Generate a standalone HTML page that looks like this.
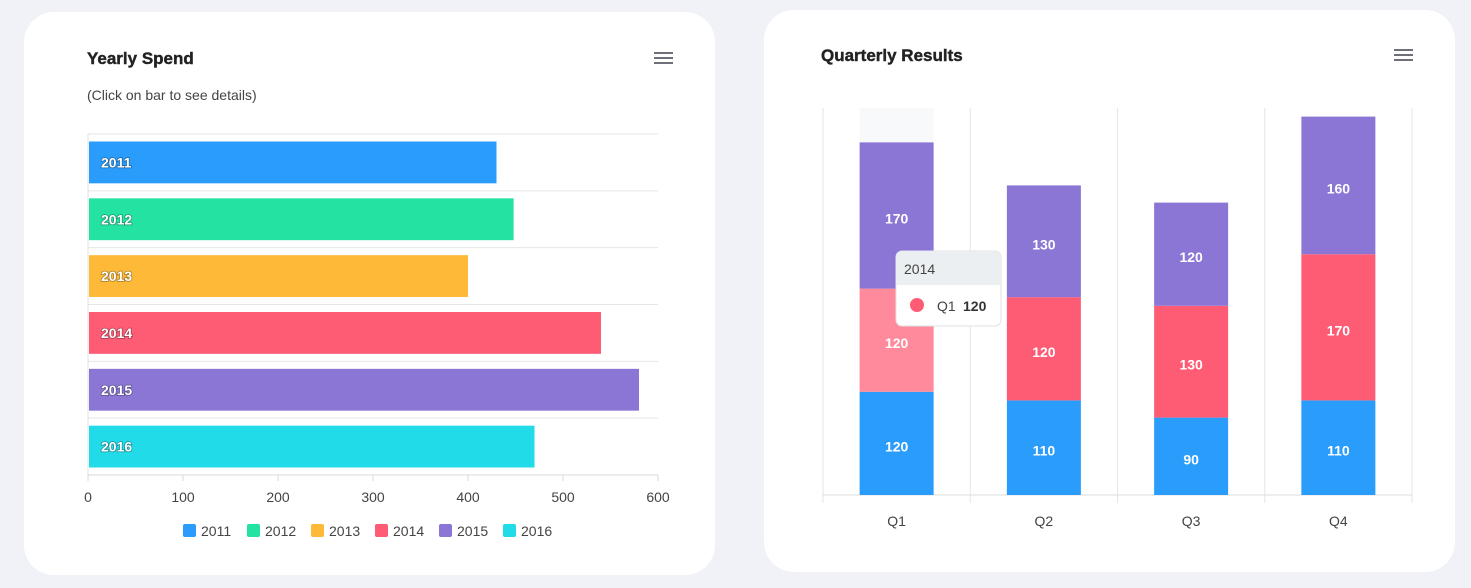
<!DOCTYPE html>
<html><head><meta charset="utf-8"><style>
body{margin:0;width:1471px;height:588px;background:#f1f2f7;font-family:"Liberation Sans",sans-serif;position:relative;overflow:hidden}
.card{position:absolute;background:#fff;border-radius:30px}
svg{position:absolute;left:0;top:0}
</style></head><body>
<div class="card" style="left:24px;top:12px;width:691px;height:563px"></div>
<div class="card" style="left:764px;top:10px;width:691px;height:562px"></div>
<svg id="s" width="1471" height="588" font-family="Liberation Sans, sans-serif">
<text x="87" y="64" font-size="17" font-weight="bold" fill="#222" stroke="#222" stroke-width="0.4">Yearly Spend</text>
<text x="87" y="100" font-size="14" fill="#444">(Click on bar to see details)</text>
<g stroke="#6e7079" stroke-width="2"><line x1="654" y1="53" x2="673" y2="53"/><line x1="654" y1="58" x2="673" y2="58"/><line x1="654" y1="63" x2="673" y2="63"/></g>
<text x="821" y="61" font-size="17" font-weight="bold" fill="#222" stroke="#222" stroke-width="0.4">Quarterly Results</text>
<g stroke="#6e7079" stroke-width="2"><line x1="1394" y1="50" x2="1413" y2="50"/><line x1="1394" y1="55" x2="1413" y2="55"/><line x1="1394" y1="60" x2="1413" y2="60"/></g>
<g id="left"></g><g id="right"></g>
</svg>
<script>
const years=['2011','2012','2013','2014','2015','2016'];
const spend=[430,448,400,540,580,470];
const yearColors=['#2a9cfb','#24e3a2','#fdb937','#fe5c75','#8b76d6','#22dbe9'];
const xTicks=[0,100,200,300,400,500,600];
const quarters=['Q1','Q2','Q3','Q4'];
const s2014=[120,120,130,170];
const s2011=[120,110,90,110];
const s2015=[170,130,120,160];
const NS='http://www.w3.org/2000/svg';
function mk(p,t,a,txt){const e=document.createElementNS(NS,t);for(const k in a)e.setAttribute(k,a[k]);if(txt!=null)e.textContent=txt;p.appendChild(e);return e;}
const L=document.getElementById('left');
const x0=88,x1=658,pTop=134,pBot=475;
const xs=v=>x0+v/600*(x1-x0);
const rowH=(pBot-pTop)/years.length;
for(let i=0;i<=years.length;i++){const g=mk(L,'line',{x1:x0,x2:x1,y1:pTop+i*rowH,y2:pTop+i*rowH,stroke:'#e6e6e6'});
 
 }
mk(L,'line',{x1:x0,x2:x0,y1:pTop,y2:pBot,stroke:'#e0e0e0'});
years.forEach((y,i)=>{
 const r=mk(L,'rect',{x:x0+1,y:pTop+i*rowH+7.5,width:xs(spend[i])-x0-1,height:rowH-15,fill:yearColors[i]});
 
 
 const t=mk(L,'text',{x:101,y:pTop+i*rowH+rowH/2+5,'font-size':14,'font-weight':'bold',fill:'#fff',style:'paint-order:stroke',stroke:'rgba(0,0,0,0.35)','stroke-width':1.5},y);
 
 
});
mk(L,'line',{x1:x0,x2:x1,y1:pBot,y2:pBot,stroke:'#d8d8d8'});
xTicks.forEach(v=>{mk(L,'line',{x1:xs(v),x2:xs(v),y1:pBot,y2:pBot+6,stroke:'#d8d8d8'});
 const t=mk(L,'text',{x:xs(v),y:502,'font-size':14,fill:'#444','text-anchor':'middle'},v);
 
 });
let lx=183;
years.forEach((y,i)=>{const g=mk(L,'g',{});
 
 
 mk(g,'rect',{x:lx,y:524,width:13,height:13,rx:2,fill:yearColors[i]});
 mk(g,'text',{x:lx+18,y:536,'font-size':14,fill:'#444'},y);lx+=64;});
const R=document.getElementById('right');
const rx0=823,rx1=1412,rt=108,rb=495,ymax=450;
const ys=v=>rb-v/ymax*(rb-rt);
const cw=(rx1-rx0)/quarters.length;
for(let i=0;i<=quarters.length;i++){const x=rx0+i*cw;const g=mk(R,'line',{x1:x,x2:x,y1:rt,y2:rb+8,stroke:'#e6e6e6'});
 
 }
mk(R,'rect',{x:rx0+cw/2-37,y:rt,width:74,height:rb-rt,fill:'#f8f9fb'});
mk(R,'line',{x1:rx0,x2:rx1,y1:rb,y2:rb,stroke:'#dcdcdc'});
const series=[[s2011,'#2a9cfb','2011'],[s2014,'#fe5c75','2014'],[s2015,'#8b76d6','2015']];
quarters.forEach((q,i)=>{let acc=0;const cx=rx0+cw*i+cw/2;
 series.forEach(([arr,col,nm])=>{const yA=ys(acc),yB=ys(acc+arr[i]);acc+=arr[i];
  let c=col;if(i===0&&nm==='2014')c='#fe8a9c';
  const r=mk(R,'rect',{x:cx-37,y:yB,width:74,height:yA-yB,fill:c});
  
  
  const t=mk(R,'text',{x:cx,y:(yA+yB)/2+8,'font-size':14,'font-weight':'bold',fill:'#fff','text-anchor':'middle'},arr[i]);
  
  });
 const t=mk(R,'text',{x:cx,y:526,'font-size':14,fill:'#444','text-anchor':'middle'},q);
 
 });
const tt=mk(R,'g',{});


mk(tt,'rect',{x:896,y:251,width:105,height:75,rx:6,fill:'#fff',stroke:'#dde1e5'});
mk(tt,'path',{d:'M896 257a6 6 0 0 1 6-6h93a6 6 0 0 1 6 6v28h-105z',fill:'#eceff1'});
mk(tt,'text',{x:904,y:274,'font-size':14,fill:'#444'},'2014');
mk(tt,'circle',{cx:917,cy:305,r:7,fill:'#fe5c75'});
mk(tt,'text',{x:937,y:311,'font-size':14,fill:'#444'},'Q1');
mk(tt,'text',{x:963,y:311,'font-size':14,'font-weight':'bold',fill:'#333'},'120');
</script>
</body></html>
